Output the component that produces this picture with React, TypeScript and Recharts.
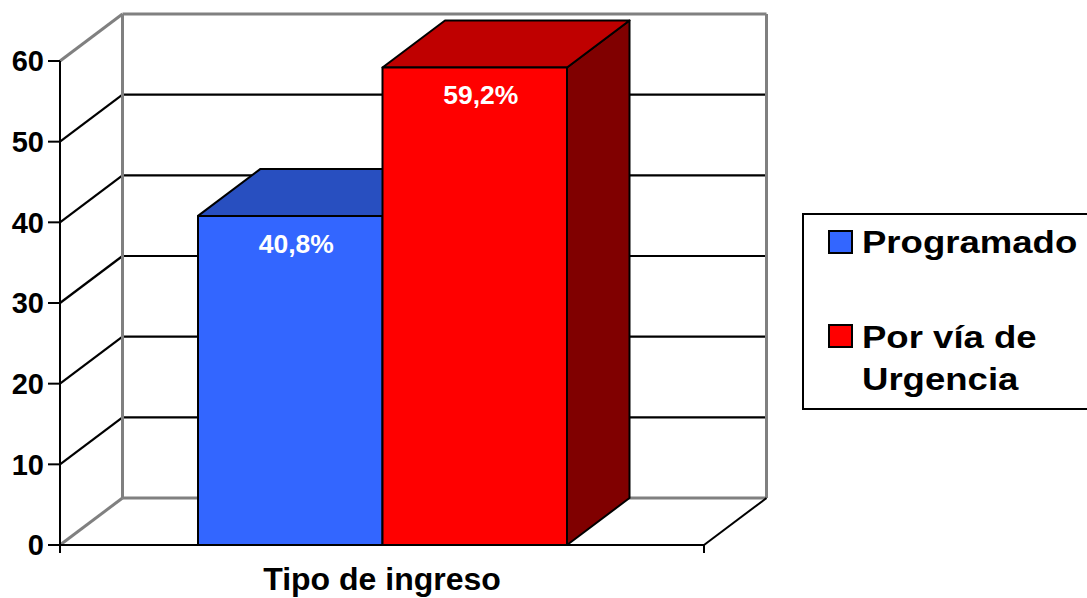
import {
  Bar,
  BarChart,
  CartesianGrid,
  LabelList,
  Legend,
  ReferenceArea,
  XAxis,
  YAxis,
} from "recharts";

const CATEGORIAS = ["Tipo de ingreso"];
const PROGRAMADO = [40.8];
const URGENCIA = [59.2];
const SERIES = ["Programado", "Por vía de Urgencia"];
const LEYENDA = [["Programado"], ["Por vía de", "Urgencia"]];
const Y_TICKS = [0, 10, 20, 30, 40, 50, 60];
const GRID_VALUES = [10, 20, 30, 40, 50];

const data = CATEGORIAS.map((tipo, i) => ({
  tipo,
  programado: PROGRAMADO[i],
  urgencia: URGENCIA[i],
}));

// profundidad del efecto 3D (desplazamiento hacia atrás)
const DX = 62.5;
const DY = 47;
const FONT = '"Liberation Sans", Arial, sans-serif';
const GRIS = "#808080";

const TONOS = {
  programado: { front: "#3366FF", top: "#284FC0", side: "#1A3380" },
  urgencia: { front: "#FF0000", top: "#BF0000", side: "#800000" },
};

type Tono = { front: string; top: string; side: string };

function Bar3D(props: any & { tono: Tono }) {
  const { x, y, width: w, height: h, tono } = props;
  const top = `${x},${y} ${x + DX},${y - DY} ${x + w + DX},${y - DY} ${x + w},${y}`;
  const side = `${x + w},${y} ${x + w + DX},${y - DY} ${x + w + DX},${y + h - DY} ${x + w},${y + h}`;
  return (
    <g stroke="#000" strokeWidth={2} strokeLinejoin="round">
      <polygon points={side} fill={tono.side} />
      <polygon points={top} fill={tono.top} />
      <rect x={x} y={y} width={w} height={h} fill={tono.front} />
    </g>
  );
}

// línea de la cuadrícula: diagonal en la pared izquierda + línea en la pared del fondo
function GridLine(p: any) {
  const { x1, y1, x2 } = p;
  return (
    <g key={p.key}>
      <line x1={x1} y1={y1} x2={x1 + DX} y2={y1 - DY} stroke="#000" strokeWidth={2.2} />
      <line x1={x1 + DX} y1={y1 - DY} x2={x2 + DX} y2={y1 - DY} stroke="#000" strokeWidth={2.2} />
    </g>
  );
}

function Pared(p: any) {
  const { x, y, width, height } = p;
  const bx = x + DX;
  const br = x + width + DX;
  const by = y - DY;
  const bb = y + height - DY;
  const fb = y + height;
  const grises = [
    [bx, by, br, by],
    [bx, by, bx, bb],
    [br, by, br, bb],
    [bx, bb, br, bb],
    [x, y, bx, by],
    [x, fb, bx, bb],
  ];
  const negras = [
    [x + width, fb, br, bb],
    [x, fb, x, fb + 8],
    [x + width, fb, x + width, fb + 8],
  ];
  return (
    <g>
      {grises.map(([a, b, c, d], i) => (
        <line key={`g${i}`} x1={a} y1={b} x2={c} y2={d} stroke={GRIS} strokeWidth={3} />
      ))}
      {negras.map(([a, b, c, d], i) => (
        <line key={`n${i}`} x1={a} y1={b} x2={c} y2={d} stroke="#000" strokeWidth={2} />
      ))}
    </g>
  );
}

function Valor(p: any) {
  const { x, y, width, value } = p;
  const texto = `${String(value).replace(".", ",")}%`;
  return (
    <g transform={`translate(${x + width / 2 + 6} ${y + 37}) scale(1.06 1)`}>
      <text
        textAnchor="middle"
        fill="#fff"
        fontSize={25}
        fontWeight={700}
        fontFamily={FONT}
      >
        {texto}
      </text>
    </g>
  );
}

function Leyenda({ payload }: any) {
  const filas = [
    { sq: 18, base: [40] },
    { sq: 112, base: [135, 177] },
  ];
  const items = SERIES.map((name) => (payload || []).find((e: any) => e.value === name));
  return (
    <svg width={300} height={198} style={{ display: "block" }}>
      <rect x={1} y={1} width={310} height={195} fill="#fff" stroke="#000" strokeWidth={2} />
      {items.map((e: any, i: number) => (
        <g key={SERIES[i]}>
          <rect x={27} y={filas[i].sq} width={23} height={22} fill={e ? e.color : "#fff"} stroke="#000" strokeWidth={2} />
          {LEYENDA[i].map((linea, j) => (
            <g key={linea} transform={`translate(60 ${filas[i].base[j]}) scale(1.16 1)`}>
              <text fontSize={31.5} fontWeight={700} fontFamily={FONT} fill="#000">
                {linea}
              </text>
            </g>
          ))}
        </g>
      ))}
    </svg>
  );
}

export default function App() {
  return (
    <div
      style={{
        position: "absolute",
        left: 0,
        top: 0,
        width: 1087,
        height: 598,
        overflow: "hidden",
        background: "#fff",
        fontFamily: FONT,
      }}
    >
      <BarChart
        width={1087}
        height={598}
        data={data}
        margin={{ top: 61, right: 383, bottom: 0, left: 0 }}
        barGap={0}
        barSize={184.5}
      >
        <CartesianGrid
          vertical={false}
          horizontalValues={GRID_VALUES}
          horizontal={(p: any) => <GridLine {...p} />}
        />
        <ReferenceArea y1={0} y2={60} shape={(p: any) => <Pared {...p} />} />
        <XAxis
          dataKey="tipo"
          height={53}
          tickLine={false}
          tickSize={6}
          tickMargin={16}
          axisLine={{ stroke: "#000", strokeWidth: 2 }}
          tick={{ fontSize: 32, fontWeight: 700, fill: "#000", fontFamily: FONT }}
        />
        <YAxis
          width={60}
          domain={[0, 60]}
          ticks={Y_TICKS}
          tickSize={12}
          tickMargin={4}
          axisLine={{ stroke: "#000", strokeWidth: 2 }}
          tickLine={{ stroke: "#000", strokeWidth: 2 }}
          tick={{ fontSize: 29, fontWeight: 700, fill: "#000", fontFamily: FONT }}
        />
        <Legend
          layout="vertical"
          align="center"
          verticalAlign="middle"
          wrapperStyle={{ left: 802, top: 213, width: 300 }}
          content={(p: any) => <Leyenda {...p} />}
        />
        <Bar
          dataKey="programado"
          name={SERIES[0]}
          fill={TONOS.programado.front}
          isAnimationActive={false}
          shape={(p: any) => <Bar3D {...p} tono={TONOS.programado} />}
        >
          <LabelList dataKey="programado" content={(p: any) => <Valor {...p} />} />
        </Bar>
        <Bar
          dataKey="urgencia"
          name={SERIES[1]}
          fill={TONOS.urgencia.front}
          isAnimationActive={false}
          shape={(p: any) => <Bar3D {...p} tono={TONOS.urgencia} />}
        >
          <LabelList dataKey="urgencia" content={(p: any) => <Valor {...p} />} />
        </Bar>
      </BarChart>
    </div>
  );
}
